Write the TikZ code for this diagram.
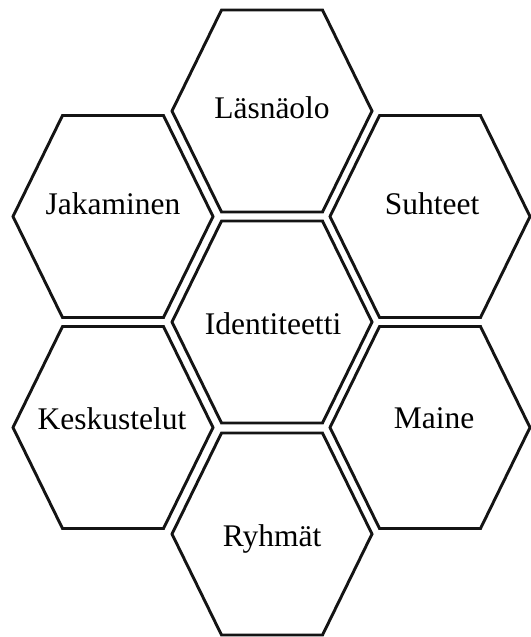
\documentclass[tikz,border=0pt]{standalone}
\usepackage{fontspec}
\setmainfont{Liberation Serif}
\tikzset{
  hexlabel/.style={font=\fontsize{31.5}{36}\selectfont, inner sep=0pt, text=black, anchor=base},
  hexline/.style={draw=black!92, line width=2.9pt, line join=miter}
}
\newcommand\hexframe[1]{%
  \draw[hexline, shift={(#1)}] (-100,0) -- (-50.5,-101) -- (50.5,-101) -- (100,0) -- (50.5,101) -- (-50.5,101) -- cycle;}
\begin{document}
\begin{tikzpicture}[x=1pt, y=-1pt]
  \fill[white] (0,0) rectangle (530,637);
  \useasboundingbox (0,0) rectangle (530,637);
  % hexagon centres
  \coordinate (hL) at (272,111);
  \coordinate (hJ) at (113,216.5);
  \coordinate (hS) at (430,216.5);
  \coordinate (hI) at (272,322);
  \coordinate (hK) at (113,427.5);
  \coordinate (hM) at (430,427.5);
  \coordinate (hR) at (272,534);
  \hexframe{hL}
  \hexframe{hJ}
  \hexframe{hS}
  \hexframe{hI}
  \hexframe{hK}
  \hexframe{hM}
  \hexframe{hR}
  % labels
  \node[hexlabel] (lasnaolo)     at (272,118) {Läsnäolo};
  \node[hexlabel] (jakaminen)    at (113,214) {Jakaminen};
  \node[hexlabel] (suhteet)      at (432,214) {Suhteet};
  \node[hexlabel] (identiteetti) at (273,334) {Identiteetti};
  \node[hexlabel] (keskustelut)  at (112,429) {Keskustelut};
  \node[hexlabel] (maine)        at (434,428) {Maine};
  \node[hexlabel] (ryhmat)       at (272,546) {Ryhmät};
\end{tikzpicture}
\end{document}
